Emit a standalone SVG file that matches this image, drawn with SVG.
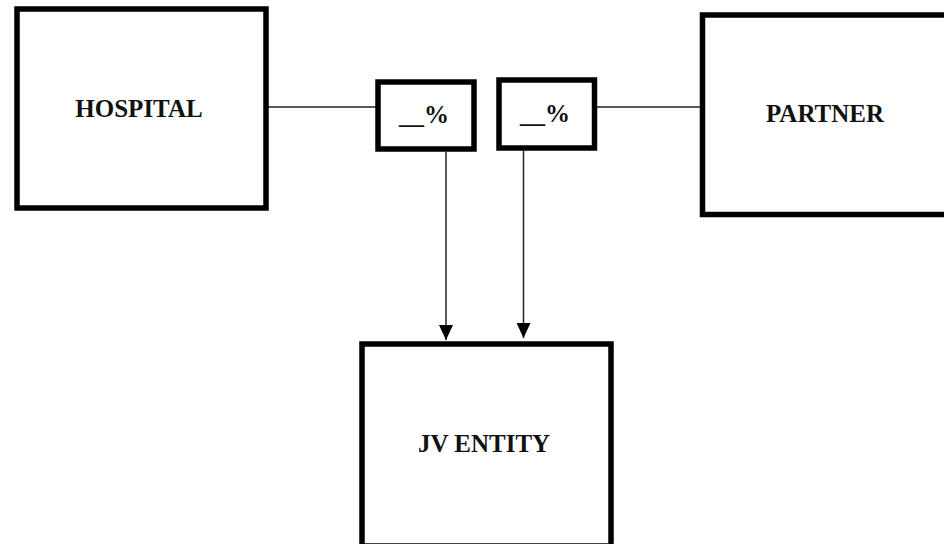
<svg xmlns="http://www.w3.org/2000/svg" width="944" height="544" viewBox="0 0 944 544">
  <style>
    .box { fill: #ffffff; stroke: #000000; stroke-width: 5.5; }
    .label { font-family: "Liberation Serif", "Times New Roman", serif; font-weight: bold; font-size: 25px; fill: #111111; text-anchor: middle; }
    .pct { font-size: 25px; }
    .link { fill: none; stroke: #222222; stroke-width: 1.5; }
  </style>
  <defs>
    <!-- filled triangle, pointing along the line direction -->
    <marker id="arrow" viewBox="0 0 15 14" refX="15" refY="7" markerWidth="15" markerHeight="14" markerUnits="userSpaceOnUse" orient="auto">
      <path d="M0,0 L15,7 L0,14 Z" fill="#000000"/>
    </marker>
  </defs>
  <rect width="944" height="544" fill="#ffffff"/>

  <!-- connectors -->
  <g id="connectors">
    <line class="link" x1="268" y1="107" x2="376" y2="107"/>
    <line class="link" x1="597" y1="107" x2="700" y2="107"/>
    <line class="link" x1="446" y1="152" x2="446" y2="340" marker-end="url(#arrow)"/>
    <line class="link" x1="523.5" y1="151" x2="523.5" y2="338" marker-end="url(#arrow)"/>
  </g>

  <g id="hospital">
    <rect class="box" x="17" y="9" width="249" height="199"/>
    <text class="label" x="139" y="117">HOSPITAL</text>
  </g>

  <g id="partner">
    <rect class="box" x="702.5" y="15" width="260" height="199.5"/>
    <text class="label" x="825" y="122">PARTNER</text>
  </g>

  <g id="hospital-share">
    <rect class="box" x="378" y="82" width="96" height="67"/>
    <text class="label pct" x="424" y="123">__%</text>
  </g>

  <g id="partner-share">
    <rect class="box" x="499" y="80" width="95.5" height="68"/>
    <text class="label pct" x="545" y="122">__%</text>
  </g>

  <g id="jv-entity">
    <rect class="box" x="362" y="344" width="249" height="202"/>
    <text class="label" x="484" y="452">JV ENTITY</text>
  </g>
</svg>
